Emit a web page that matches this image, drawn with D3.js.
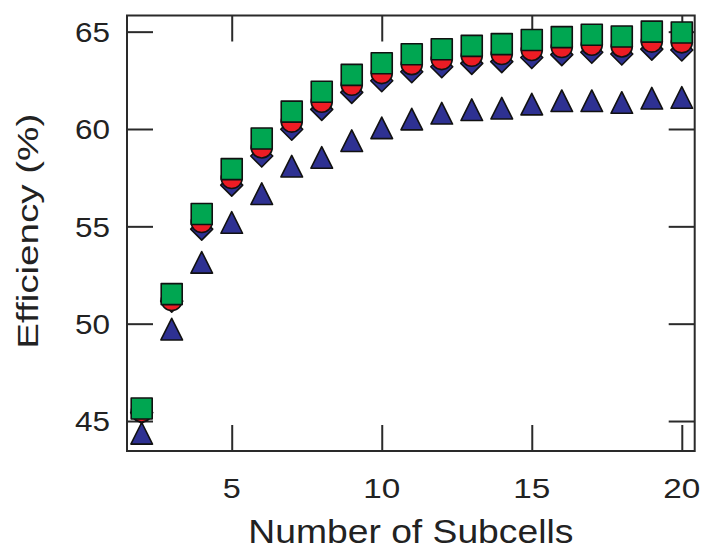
<!DOCTYPE html>
<html>
<head>
<meta charset="utf-8">
<script src="https://cdn.jsdelivr.net/npm/d3@7"></script>
<style>
  body { margin: 0; background: #fff; }
  svg text { font-family: 'Liberation Sans', Arial, sans-serif; fill: #222; }
</style>
</head>
<body>
<svg class="chart" width="704" height="551"></svg>
<script>
'use strict'

const subcells = [2, 3, 4, 5, 6, 7, 8, 9, 10, 11, 12, 13, 14, 15, 16, 17, 18, 19, 20]
const squareEff = [45.64, 51.52, 55.63, 57.94, 59.51, 60.89, 61.91, 62.78, 63.38, 63.84, 64.10, 64.27, 64.36, 64.57, 64.72, 64.84, 64.75, 65.00, 64.96]
const circleEff = [45.49, 51.21, 55.22, 57.48, 59.05, 60.38, 61.40, 62.27, 62.87, 63.33, 63.59, 63.76, 63.85, 64.06, 64.21, 64.33, 64.24, 64.49, 64.45]
const diamondEff = [45.43, 51.16, 54.86, 57.12, 58.61, 59.99, 61.01, 61.88, 62.48, 62.94, 63.20, 63.37, 63.46, 63.67, 63.82, 63.94, 63.85, 64.10, 64.06]
const triangleEff = [44.37, 49.72, 53.15, 55.20, 56.68, 58.09, 58.54, 59.40, 60.06, 60.51, 60.81, 60.99, 61.07, 61.28, 61.45, 61.45, 61.36, 61.58, 61.62]
const xTicks = [5, 10, 15, 20]
const yTicks = [45, 50, 55, 60, 65]

const svg = d3.select('svg.chart')
const margin = { top: 15.5, right: 9.3, bottom: 100, left: 127 }
const width = +svg.attr('width') - margin.left - margin.right
const height = +svg.attr('height') - margin.top - margin.bottom

const x = d3.scaleLinear().domain([1.51, 20.43]).range([0, width])
const y = d3.scaleLinear().domain([43.46, 65.83]).range([height, 0])

const g = svg.append('g')
  .attr('transform', 'translate(' + margin.left + ',' + margin.top + ')')

const tickLen = 26
const axisColor = '#2a2a2a'

// ticks pointing inward on all four sides
const styleAxis = sel => {
  sel.select('.domain').remove()
  sel.selectAll('.tick line').attr('stroke', axisColor).attr('stroke-width', 2)
  sel.selectAll('.tick text').remove()
}
g.append('g').attr('transform', 'translate(0,' + height + ')')
  .call(d3.axisBottom(x).tickValues(xTicks).tickSize(-tickLen)).call(styleAxis)
g.append('g')
  .call(d3.axisTop(x).tickValues(xTicks).tickSize(-tickLen)).call(styleAxis)
g.append('g')
  .call(d3.axisLeft(y).tickValues(yTicks).tickSize(-tickLen)).call(styleAxis)
g.append('g').attr('transform', 'translate(' + width + ',0)')
  .call(d3.axisRight(y).tickValues(yTicks).tickSize(-tickLen)).call(styleAxis)

g.append('rect')
  .attr('width', width)
  .attr('height', height)
  .attr('fill', 'none')
  .attr('stroke', axisColor)
  .attr('stroke-width', 2)

// tick labels
g.selectAll('.xlab')
  .data(xTicks)
  .enter().append('text')
  .attr('class', 'xlab')
  .attr('x', d => x(d))
  .attr('y', height + 47)
  .attr('text-anchor', 'middle')
  .attr('font-size', 28.5)
  .attr('textLength', d => d < 10 ? 18 : 37)
  .attr('lengthAdjust', 'spacingAndGlyphs')
  .text(d => d)

g.selectAll('.ylab')
  .data(yTicks)
  .enter().append('text')
  .attr('class', 'ylab')
  .attr('x', -17)
  .attr('y', d => y(d))
  .attr('dy', '0.36em')
  .attr('text-anchor', 'end')
  .attr('font-size', 28.5)
  .attr('textLength', 35)
  .attr('lengthAdjust', 'spacingAndGlyphs')
  .text(d => d)

svg.append('text')
  .attr('x', margin.left + width / 2)
  .attr('y', 543)
  .attr('text-anchor', 'middle')
  .attr('font-size', 33)
  .attr('textLength', 325)
  .attr('lengthAdjust', 'spacingAndGlyphs')
  .text('Number of Subcells')

svg.append('text')
  .attr('text-anchor', 'middle')
  .attr('transform', 'translate(38,' + (margin.top + height / 2 - 2) + ')rotate(-90)')
  .attr('font-size', 30)
  .attr('textLength', 235)
  .attr('lengthAdjust', 'spacingAndGlyphs')
  .text('Efficiency (%)')

// markers
const navy = '#2e3192'
const shapes = {
  triangle: 'M0,-10.8L10.8,10.8L-10.8,10.8Z',
  diamond: 'M0,-11L11,0L0,11L-11,0Z',
  circle: 'M10.5,0A10.5,10.5,0,1,1,-10.5,0A10.5,10.5,0,1,1,10.5,0Z',
  square: 'M-10.5,-10.5H10.5V10.5H-10.5Z'
}

const series = [
  { name: 'triangle', values: triangleEff, fill: navy },
  { name: 'diamond', values: diamondEff, fill: navy },
  { name: 'circle', values: circleEff, fill: '#ed1c24' },
  { name: 'square', values: squareEff, fill: '#00a651' }
]

series.forEach(s => {
  g.selectAll('.m-' + s.name)
    .data(subcells.map((n, i) => ({ n: n, v: s.values[i] })))
    .enter().append('path')
    .attr('class', 'm-' + s.name)
    .attr('d', shapes[s.name])
    .attr('transform', d => 'translate(' + x(d.n) + ',' + y(d.v) + ')')
    .attr('fill', s.fill)
    .attr('stroke', '#111')
    .attr('stroke-width', 1.6)
    .attr('stroke-linejoin', 'round')
})
</script>
</body>
</html>
